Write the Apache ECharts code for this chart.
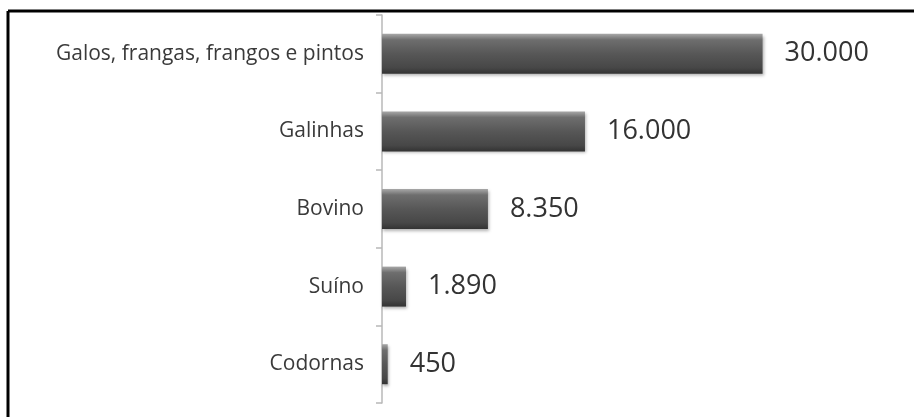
<!DOCTYPE html>
<html>
<head>
<meta charset="utf-8">
<script src="https://cdn.jsdelivr.net/npm/echarts@6/dist/echarts.min.js"></script>
<style>
  html, body { margin: 0; padding: 0; background: #fff; }
  #chart { width: 914px; height: 417px; }
</style>
</head>
<body>
<div id="chart"></div>
<script>
const categories = ['Galos, frangas, frangos e pintos', 'Galinhas', 'Bovino', 'Suíno', 'Codornas'];
const values = [30000, 16000, 8350, 1890, 450];

function fmt(v) {
  return String(v).replace(/\B(?=(\d{3})+(?!\d))/g, '.');
}

const chart = echarts.init(document.getElementById('chart'));
chart.setOption({
  animation: false,
  backgroundColor: '#fff',
  grid: { left: 382, right: 88, top: 15, bottom: 14 },
  graphic: [
    { type: 'line', shape: { x1: 8, y1: 11, x2: 914, y2: 11 }, style: { stroke: '#000', lineWidth: 3 } },
    { type: 'line', shape: { x1: 8, y1: 11, x2: 8, y2: 417 }, style: { stroke: '#000', lineWidth: 3 } }
  ],
  xAxis: {
    type: 'value', min: 0, max: 35000,
    show: false, splitLine: { show: false }
  },
  yAxis: {
    type: 'category', data: categories, inverse: true,
    axisLine: { show: true, lineStyle: { color: '#b8b8b8', width: 1.5 } },
    axisTick: { show: true, length: 6, lineStyle: { color: '#b8b8b8', width: 1.5 } },
    axisLabel: { margin: 18, color: '#3a3a3a', fontSize: 21, fontFamily: 'Open Sans' }
  },
  series: [{
    type: 'bar',
    data: values,
    barWidth: 40,
    itemStyle: {
      color: new echarts.graphic.LinearGradient(0, 0, 0, 1, [
        { offset: 0, color: '#a8a8a8' },
        { offset: 0.15, color: '#6e6e6e' },
        { offset: 0.5, color: '#575757' },
        { offset: 0.85, color: '#474747' },
        { offset: 1, color: '#333' }
      ]),
      shadowColor: 'rgba(0,0,0,0.3)', shadowBlur: 3, shadowOffsetY: 2, shadowOffsetX: 1
    },
    label: {
      show: true, position: 'right', distance: 22,
      color: '#333', fontSize: 27, fontFamily: 'Open Sans',
      formatter: p => fmt(p.value)
    }
  }]
});
</script>
</body>
</html>
